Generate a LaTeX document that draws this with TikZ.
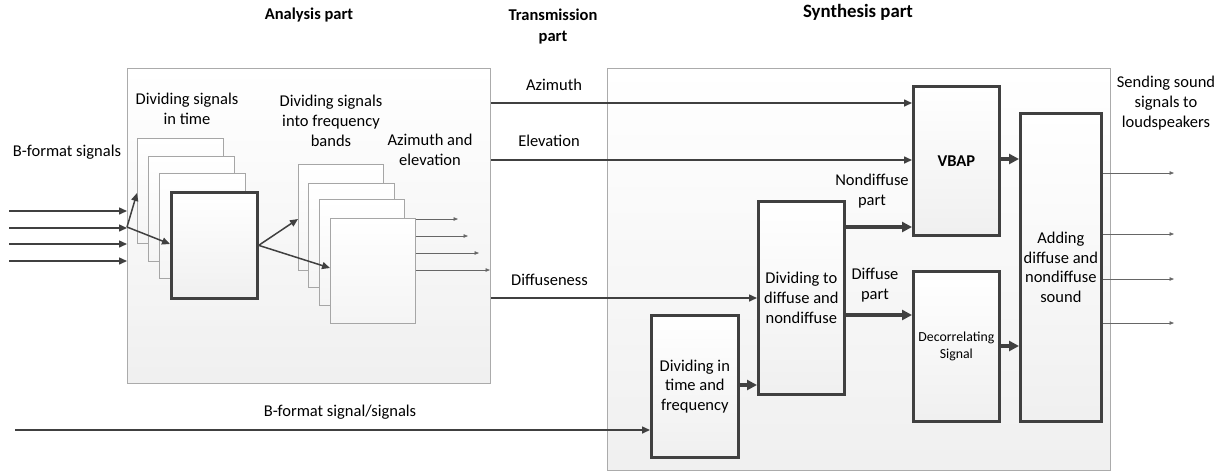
\documentclass[tikz,border=0pt]{standalone}
\usepackage{fontspec}
\setmainfont{Carlito}
\usetikzlibrary{arrows.meta}
\definecolor{dk}{HTML}{404040}
\definecolor{frm}{HTML}{ABABAB}
\begin{document}
\begin{tikzpicture}[x=1pt,y=-1pt,
 font=\fontsize{16.5}{19.7}\selectfont,
 outer/.style={draw=frm, line width=0.9pt, top color=white, bottom color=gray!12, anchor=north west, inner sep=0},
 thinbox/.style={draw=gray!70, line width=0.9pt, top color=white, bottom color=gray!8, anchor=north west, inner sep=0},
 thickbox/.style={draw=dk, line width=2.7pt, top color=white, bottom color=gray!12, align=center, anchor=north west, inner sep=0},
 conn/.style={draw=dk, line width=1.5pt, -{Triangle[length=8pt,width=7pt]}},
 boldarr/.style={draw=dk, line width=3.2pt, -{Triangle[length=10pt,width=10pt]}},
 tinyarr/.style={draw=dk!80, line width=0.7pt, -{Triangle[length=4.5pt,width=3.5pt]}},
 lbl/.style={align=center, inner sep=0, font=\fontsize{16.5}{19.7}\selectfont},
 ttl/.style={align=center, inner sep=0, font=\fontsize{16.5}{21}\selectfont\bfseries}]
\useasboundingbox (0,0) rectangle (1228,475);
% frames
\node[outer, minimum width=363pt, minimum height=315pt] (ana) at (127,68) {};
\node[outer, minimum width=503pt, minimum height=402pt] (syn) at (607,68) {};
% titles
\node[ttl] (t-ana) at (309,15) {Analysis part};
\node[ttl] (t-tr) at (553,26.5) {Transmission\\part};
\node[ttl, font=\fontsize{18.8}{22}\selectfont\bfseries] (t-syn) at (858,12) {Synthesis part};
% time stack
\node[thinbox, minimum width=86pt, minimum height=105pt] (t1) at (137,138) {};
\node[thinbox, minimum width=86pt, minimum height=105pt] (t2) at (148,156) {};
\node[thinbox, minimum width=86pt, minimum height=105pt] (t3) at (159,173) {};
\node[thickbox, minimum width=86pt, minimum height=106pt] (t4) at (170,191) {};
% frequency stack
\node[thinbox, minimum width=85pt, minimum height=106pt] (f1) at (298,164) {};
\node[thinbox, minimum width=86pt, minimum height=104pt] (f2) at (308,183) {};
\node[thinbox, minimum width=85pt, minimum height=106pt] (f3) at (319,199) {};
\node[thinbox, minimum width=85pt, minimum height=105pt] (f4) at (330,218) {};
% synthesis boxes
\node[thickbox, minimum width=86pt, minimum height=149pt, font=\fontsize{16.5}{19.7}\selectfont\bfseries] (vbap) at (912,85) {VBAP};
\node[thickbox, minimum width=86pt, minimum height=193pt] (div) at (757,200) {Dividing to\\diffuse and\\nondiffuse};
\node[thickbox, minimum width=86pt, minimum height=150pt, font=\fontsize{13.8}{17}\selectfont] (dec) at (912,270) {Decorrelating\\Signal};
\node[thickbox, minimum width=87pt, minimum height=142pt] (dtf) at (650,314) {Dividing in\\time and\\frequency};
\node[thickbox, minimum width=81pt, minimum height=308pt] (add) at (1019,112) {Adding\\diffuse and\\nondiffuse\\sound};
% labels
\node[lbl] (l-bf) at (67,152) {B-format signals};
\node[lbl] (l-dt) at (187,109) {Dividing signals\\in time};
\node[lbl] (l-df) at (331,121) {Dividing signals\\into frequency\\bands};
\node[lbl] (l-ae) at (430,150) {Azimuth and\\elevation};
\node[lbl] (l-az) at (554,85) {Azimuth};
\node[lbl] (l-el) at (549,141) {Elevation};
\node[lbl] (l-di) at (549.5,280) {Diffuseness};
\node[lbl] (l-bs) at (340,412) {B-format signal/signals};
\node[lbl] (l-nd) at (872,191) {Nondiffuse\\part};
\node[lbl] (l-dp) at (875,285) {Diffuse\\part};
\node[lbl] (l-ss) at (1166,103) {Sending sound\\signals to\\loudspeakers};
% input arrows
\coordinate (i1) at (9,211);
\coordinate (i2) at (9,228);
\coordinate (i3) at (9,244);
\coordinate (i4) at (9,261);
\foreach \c in {i1,i2,i3,i4} \draw[conn] (\c) -- (ana.west |- \c);
\coordinate (br) at (127,227);
\draw[conn] (br) -- (t1.west |- 0,193);
\draw[conn] (br) -- (t4.west |- 0,244);
\draw[conn] (t4.east) -- (f1.west |- 0,219);
\draw[conn] (t4.east) -- (f4.west |- 0,268);
% frequency outputs
\coordinate (o1) at (458,219);
\coordinate (o2) at (468,236);
\coordinate (o3) at (479,253);
\coordinate (o4) at (490,270);
\foreach \c in {o1,o2,o3,o4} \draw[tinyarr] (f4.east |- \c) -- (\c);
% transmission
\draw[conn] (ana.east |- 0,103) -- (vbap.west |- 0,103);
\draw[conn] (ana.east |- 0,160) -- (vbap.west |- 0,160);
\draw[conn] (ana.east |- 0,298) -- (div.west |- 0,298);
\coordinate (b0) at (15,430);
\draw[conn] (b0) -- (dtf.west |- b0);
% synthesis connections
\draw[boldarr] (dtf.east |- 0,385) -- (div.west |- 0,385);
\draw[boldarr] (div.east |- 0,227) -- (vbap.west |- 0,227);
\draw[boldarr] (div.east |- 0,315) -- (dec.west |- 0,315);
\draw[boldarr] (vbap.east |- 0,159) -- (add.west |- 0,159);
\draw[boldarr] (dec.east |- 0,346) -- (add.west |- 0,346);
% outputs
\coordinate (s1) at (1174,173);
\coordinate (s2) at (1174,234);
\coordinate (s3) at (1174,279);
\coordinate (s4) at (1174,323);
\foreach \c in {s1,s2,s3,s4} \draw[tinyarr] (add.east |- \c) -- (\c);
\end{tikzpicture}
\end{document}
